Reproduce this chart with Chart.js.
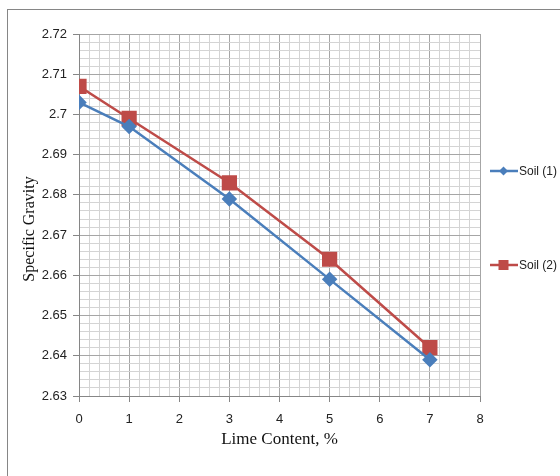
<!DOCTYPE html>
<html>
<head>
<meta charset="utf-8">
<script src="https://cdn.jsdelivr.net/npm/chart.js@4/dist/chart.umd.min.js"></script>
<style>
  html, body { margin: 0; padding: 0; background: #fff; }
  #wrap { width: 560px; height: 476px; position: relative; }
</style>
</head>
<body>
<div id="wrap"><canvas id="c" width="560" height="476"></canvas></div>
<script>
// Lime content (%) and measured specific gravity of the two soils
const limeContent = [0, 1, 3, 5, 7];
const soil1 = [2.703, 2.697, 2.679, 2.659, 2.639];
const soil2 = [2.707, 2.699, 2.683, 2.664, 2.642];
const seriesNames = ['Soil (1)', 'Soil (2)'];

// Axis ranges: labelled steps plus the finer graph-paper steps
const xRange = { min: 0, max: 8, major: 1, minor: 0.2 };
const yRange = { min: 2.63, max: 2.72, major: 0.01, minor: 0.002 };

const BLUE = '#4a7ebb';
const RED = '#be4b48';
const MAJOR_GRID = '#a6a6a6';
const MINOR_GRID = '#d4d4d4';
const AXIS_GREY = '#868686';

function isMajor(v, step) {
  const q = v / step;
  return Math.abs(q - Math.round(q)) < 1e-6;
}

const toPoints = ys => limeContent.map((x, i) => ({ x: x, y: ys[i] }));

// Outer frame of the figure
const framePlugin = {
  id: 'frame',
  beforeDraw(chart) {
    const ctx = chart.ctx;
    ctx.save();
    ctx.fillStyle = '#fff';
    ctx.fillRect(0, 0, chart.width, chart.height);
    ctx.strokeStyle = AXIS_GREY;
    ctx.lineWidth = 1;
    ctx.strokeRect(7.5, 9.5, 700, 700);
    ctx.restore();
  }
};

// Legend on the right: a short line with the series marker, then the name
const sideLegend = {
  id: 'sideLegend',
  afterDraw(chart) {
    const ctx = chart.ctx;
    const rows = [171, 265];
    chart.data.datasets.forEach((ds, i) => {
      const y = rows[i];
      ctx.save();
      ctx.strokeStyle = ds.borderColor;
      ctx.lineWidth = 2.5;
      ctx.beginPath();
      ctx.moveTo(490, y);
      ctx.lineTo(518, y);
      ctx.stroke();
      ctx.fillStyle = ds.borderColor;
      const cx = 503.5;
      ctx.beginPath();
      if (ds.pointStyle === 'rectRot') {
        ctx.moveTo(cx - 4.5, y);
        ctx.lineTo(cx, y - 4.5);
        ctx.lineTo(cx + 4.5, y);
        ctx.lineTo(cx, y + 4.5);
        ctx.closePath();
      } else {
        ctx.rect(cx - 5, y - 5, 10, 10);
      }
      ctx.fill();
      ctx.fillStyle = '#222';
      ctx.font = '12px "Liberation Sans", Arial, sans-serif';
      ctx.textAlign = 'left';
      ctx.textBaseline = 'middle';
      ctx.fillText(ds.label, 519, y + 1);
      ctx.restore();
    });
  }
};

const tickFont = { family: '"Liberation Sans", Arial, sans-serif', size: 13 };
const titleFont = { family: '"Liberation Serif", "Times New Roman", serif', size: 16 };

new Chart(document.getElementById('c'), {
  type: 'scatter',
  data: {
    datasets: [
      {
        label: seriesNames[0],
        data: toPoints(soil1),
        showLine: true,
        borderColor: BLUE,
        backgroundColor: BLUE,
        borderWidth: 2.5,
        pointStyle: 'rectRot',
        pointRadius: 6,
        pointHoverRadius: 6
      },
      {
        label: seriesNames[1],
        data: toPoints(soil2),
        showLine: true,
        borderColor: RED,
        backgroundColor: RED,
        borderWidth: 2.5,
        pointStyle: 'rect',
        pointRadius: 9,
        pointHoverRadius: 9
      }
    ]
  },
  options: {
    responsive: false,
    animation: false,
    events: [],
    layout: { padding: { left: 0, top: 34, right: 80, bottom: 0 } },
    plugins: {
      legend: { display: false },
      tooltip: { enabled: false }
    },
    scales: {
      x: {
        type: 'linear',
        min: xRange.min,
        max: xRange.max,
        afterFit(scale) { scale.height = 80; },
        ticks: {
          stepSize: xRange.minor,
          autoSkip: false,
          maxRotation: 0,
          padding: 10,
          color: '#222',
          font: tickFont,
          callback: v => isMajor(v, xRange.major) ? String(Math.round(v)) : ''
        },
        grid: {
          color: c => isMajor(c.tick.value, xRange.major) ? MAJOR_GRID : MINOR_GRID,
          tickColor: c => isMajor(c.tick.value, xRange.major) ? AXIS_GREY : 'rgba(0,0,0,0)',
          tickLength: 6,
          lineWidth: 1
        },
        border: { color: AXIS_GREY },
        title: {
          display: true,
          text: 'Lime Content, %',
          color: '#111',
          font: { family: titleFont.family, size: 17 },
          padding: { top: 0, bottom: 26 }
        }
      },
      y: {
        type: 'linear',
        min: yRange.min,
        max: yRange.max,
        afterFit(scale) { scale.width = 79; },
        ticks: {
          stepSize: yRange.minor,
          autoSkip: false,
          padding: 6,
          color: '#222',
          font: tickFont,
          callback: v => isMajor(v, yRange.major) ? String(Math.round(v * 100) / 100) : ''
        },
        grid: {
          color: c => isMajor(c.tick.value, yRange.major) ? MAJOR_GRID : MINOR_GRID,
          tickColor: c => isMajor(c.tick.value, yRange.major) ? AXIS_GREY : 'rgba(0,0,0,0)',
          tickLength: 6,
          lineWidth: 1
        },
        border: { color: AXIS_GREY },
        title: {
          display: true,
          text: 'Specific Gravity\u00a0\u00a0\u00a0\u00a0\u00a0\u00a0\u00a0',
          color: '#111',
          font: titleFont,
          padding: { top: 20, bottom: 0 }
        }
      }
    }
  },
  plugins: [framePlugin, sideLegend]
});
</script>
</body>
</html>
